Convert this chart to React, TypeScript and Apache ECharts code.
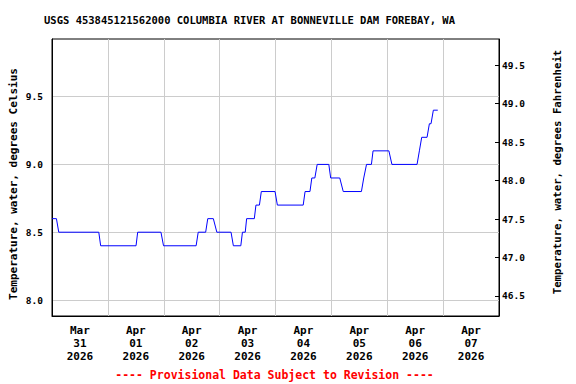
import React, { useEffect, useRef } from "react";
import * as echarts from "echarts";

const TITLE = "USGS 453845121562000 COLUMBIA RIVER AT BONNEVILLE DAM FOREBAY, WA";
const FOOTER = "---- Provisional Data Subject to Revision ----";
const LEFT_NAME = "Temperature, water, degrees Celsius";
const RIGHT_NAME = "Temperature, water, degrees Fahrenheit";

// Each segment: value (deg C) held from segStart to segEnd (hours since 2026-03-31 00:00)
const segValues = [8.6, 8.5, 8.4, 8.5, 8.4, 8.5, 8.6, 8.5, 8.4, 8.5, 8.6, 8.7, 8.8, 8.7, 8.8, 8.9, 9.0, 8.9, 8.8, 8.9, 9.0, 9.1, 9.0, 9.1, 9.2, 9.3, 9.4];
const segStart = [0, 2.9, 20.9, 36.8, 47.9, 62.8, 66.9, 70.8, 77.9, 81.8, 83.6, 87.6, 89.9, 96.8, 108.7, 111.6, 113.9, 119.7, 125.1, 133.9, 135.1, 137.9, 146.0, 157.8, 158.8, 162.1, 163.8];
const segEnd = [1.9, 20.1, 36.1, 46.8, 61.9, 66.0, 69.3, 76.9, 81.1, 83.0, 86.9, 89.1, 95.8, 107.9, 110.8, 112.9, 118.9, 123.6, 132.9, 134.2, 137.2, 144.7, 156.8, 158.1, 161.1, 162.8, 165.7];

const celsiusTicks = [8.0, 8.5, 9.0, 9.5];
const fahrenheitTicks = [46.5, 47.0, 47.5, 48.0, 48.5, 49.0, 49.5];
const dayMonths = ["Mar", "Apr", "Apr", "Apr", "Apr", "Apr", "Apr", "Apr"];
const dayNumbers = ["31", "01", "02", "03", "04", "05", "06", "07"];
const dayYears = ["2026", "2026", "2026", "2026", "2026", "2026", "2026", "2026"];

const FONT = "'DejaVu Sans Mono', 'Liberation Mono', monospace";

export default function App() {
  const ref = useRef<HTMLDivElement>(null);
  useEffect(() => {
    if (!ref.current) return;
    const chart = echarts.init(ref.current, undefined, { renderer: "svg" });
    const data: number[][] = [];
    segValues.forEach((v, i) => {
      data.push([segStart[i], v]);
      data.push([segEnd[i], v]);
    });
    const dayBoundaries = dayNumbers.slice(1).map((_, i) => (i + 1) * 24);
    const dayCenters = dayNumbers.map((_, i) => i * 24 + 12);
    chart.setOption({
      animation: false,
      backgroundColor: "#ffffff",
      grid: {
        left: 52,
        top: 39,
        width: 447,
        height: 277,
        show: true,
        borderColor: "#000",
        borderWidth: 1,
        containLabel: false,
        outerBoundsMode: "none",
      },
      xAxis: {
        type: "value",
        min: 0,
        max: 192,
        axisLine: { show: true, lineStyle: { color: "#000", width: 1 } },
        axisTick: { show: false, customValues: dayBoundaries },
        splitLine: { show: true, lineStyle: { color: "#cccccc", width: 1 } },
        axisLabel: {
          customValues: dayCenters,
          margin: 8,
          color: "#000",
          fontFamily: FONT,
          fontWeight: "bold",
          fontSize: 11,
          lineHeight: 13,
          formatter: (v: number) => {
            const i = Math.round((v - 12) / 24);
            return `${dayMonths[i]}\n${dayNumbers[i]}\n${dayYears[i]}`;
          },
        },
      },
      yAxis: [
        {
          type: "value",
          position: "left",
          min: 7.882,
          max: 9.925,
          axisLine: { show: true, lineStyle: { color: "#000", width: 1 } },
          axisTick: { show: false, customValues: celsiusTicks },
          splitLine: { show: true, lineStyle: { color: "#cccccc", width: 1 } },
          axisLabel: {
            customValues: celsiusTicks,
            margin: 9,
            color: "#000",
            fontFamily: FONT,
            fontWeight: "bold",
            fontSize: 9.5,
            formatter: (v: number) => v.toFixed(1),
          },
        },
        {
          type: "value",
          position: "right",
          min: 46.24,
          max: 49.84,
          axisLine: { show: true, lineStyle: { color: "#000", width: 1 } },
          axisTick: {
            show: true,
            inside: true,
            length: 4,
            customValues: fahrenheitTicks,
            lineStyle: { color: "#000", width: 1 },
          },
          splitLine: { show: false },
          axisLabel: {
            customValues: fahrenheitTicks,
            margin: 3,
            color: "#000",
            fontFamily: FONT,
            fontWeight: "bold",
            fontSize: 9.5,
            formatter: (v: number) => v.toFixed(1),
          },
        },
      ],
      series: [
        {
          type: "line",
          yAxisIndex: 0,
          data,
          showSymbol: false,
          symbol: "none",
          lineStyle: { color: "#0000ff", width: 1 },
          itemStyle: { color: "#0000ff" },
        },
      ],
      graphic: [
        {
          type: "text",
          x: 249.5,
          y: 20,
          style: {
            text: TITLE,
            fill: "#000",
            font: `bold 10.5px ${FONT}`,
            textAlign: "center",
            textVerticalAlign: "middle",
          },
        },
        {
          type: "text",
          x: 274.5,
          y: 375,
          style: {
            text: FOOTER,
            fill: "#ff0000",
            font: `bold 11.5px ${FONT}`,
            textAlign: "center",
            textVerticalAlign: "middle",
          },
        },
        {
          type: "text",
          x: 13,
          y: 184,
          rotation: Math.PI / 2,
          style: {
            text: LEFT_NAME,
            fill: "#000",
            font: `bold 11px ${FONT}`,
            textAlign: "center",
            textVerticalAlign: "middle",
          },
        },
        {
          type: "text",
          x: 557,
          y: 172,
          rotation: Math.PI / 2,
          style: {
            text: RIGHT_NAME,
            fill: "#000",
            font: `bold 10.7px ${FONT}`,
            textAlign: "center",
            textVerticalAlign: "middle",
          },
        },
      ],
    });
    return () => chart.dispose();
  }, []);
  return (
    <div
      ref={ref}
      style={{ position: "fixed", left: 0, top: 0, width: 576, height: 384 }}
    />
  );
}
